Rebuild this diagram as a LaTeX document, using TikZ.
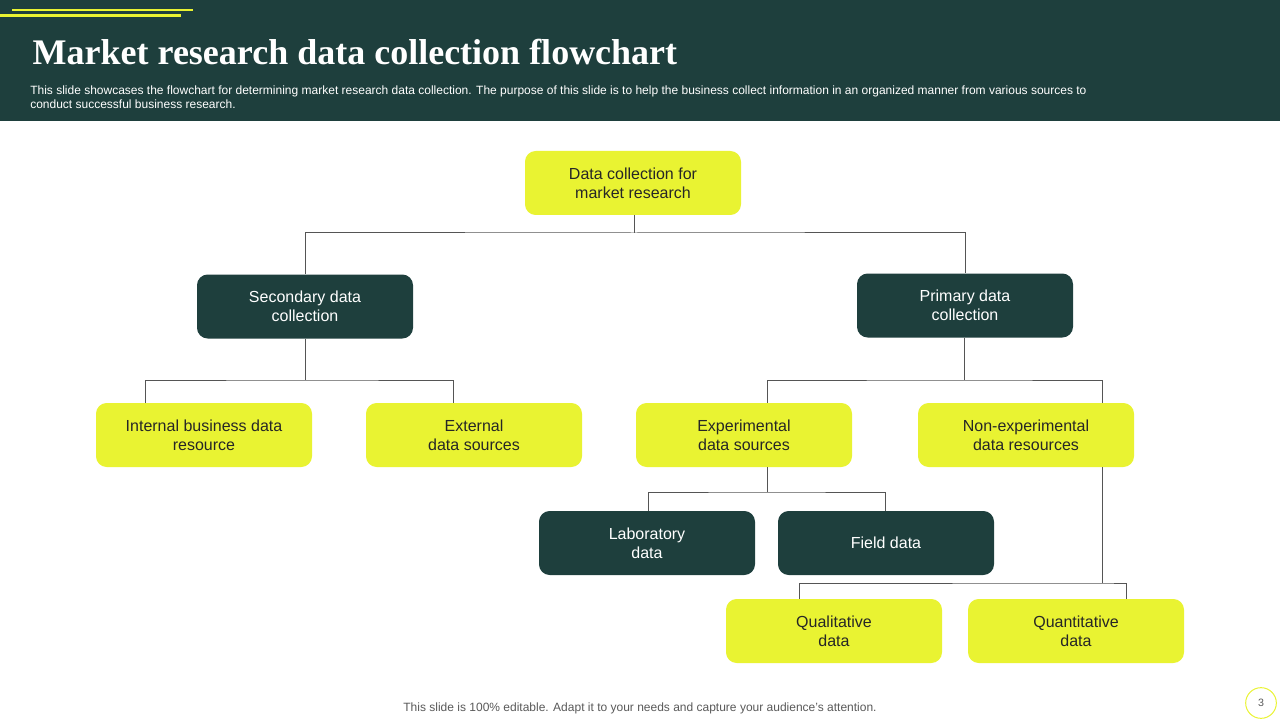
\documentclass[tikz,border=0pt]{standalone}
\usepackage{fontspec}
\setmainfont{Liberation Sans}
\newfontfamily\titlefont{Liberation Serif}
\definecolor{dk}{HTML}{1E3F3D}
\definecolor{yl}{HTML}{E9F332}
\definecolor{ln}{HTML}{555555}
\begin{document}
\begin{tikzpicture}[x=0.75pt,y=-0.75pt,
 box/.style={rounded corners=8pt,minimum width=162pt,minimum height=48pt,align=center,font=\fontsize{12}{14.4}\selectfont,inner sep=0pt},
 yb/.style={box,fill=yl,text=black!85},
 db/.style={box,fill=dk,text=white},
 con/.style={draw=ln,line width=0.75pt}]
\useasboundingbox (0,0) rectangle (1280,720);
\fill[dk] (0,0) rectangle (1280,121);
\draw[yl,line width=2pt] (12,10) -- (193,10);
\draw[yl,line width=2pt] (0,15.5) -- (181,15.5);
\node[anchor=west,text=white,font=\titlefont\bfseries\fontsize{27}{30}\selectfont] (title) at (28,52) {Market research data collection flowchart};
\node[anchor=north west,text=white,align=left,font=\fontsize{9}{10.5}\selectfont,inner sep=0pt] (sub) at (30,86) {This slide showcases the flowchart for determining market research data collection. The purpose of this slide is to help the business collect information in an organized manner from various sources to\\conduct successful business research.};

\node[yb] (root) at (633,183) {Data collection for\\market research};
\node[db] (sec) at (305,306.5) {Secondary data\\collection};
\node[db] (pri) at (965,305.5) {Primary data\\collection};
\node[yb] (int) at (204,435) {Internal business data\\resource};
\node[yb] (ext) at (474,435) {External\\data sources};
\node[yb] (exp) at (744,435) {Experimental\\data sources};
\node[yb] (nex) at (1026,435) {Non-experimental\\data resources};
\node[db] (lab) at (647,543) {Laboratory\\data};
\node[db] (fld) at (886,543) {Field data};
\node[yb] (qual) at (834,631) {Qualitative\\data};
\node[yb] (quan) at (1076,631) {Quantitative\\data};

\coordinate (r1) at (634,233);
\draw[con] (root.south -| r1) -- (r1);
\draw[con] (sec.north) |- (r1) -| (pri.north);
\coordinate (s1) at (305,380);
\draw[con] (sec.south) -- (s1);
\draw[con] (int.north -| 145,0) |- (s1) -| (ext.north -| 453,0);
\coordinate (p1) at (964,380);
\draw[con] (pri.south -| p1) -- (p1);
\draw[con] (exp.north -| 767,0) |- (p1) -| (nex.north -| 1102,0);
\coordinate (e1) at (767,492);
\draw[con] (exp.south -| e1) -- (e1);
\draw[con] (lab.north -| 648,0) |- (e1) -| (fld.north -| 885,0);
\coordinate (n1) at (1102,583);
\draw[con] (nex.south -| n1) -- (n1);
\draw[con] (qual.north -| 799,0) |- (n1) -| (quan.north -| 1126,0);

\node[text=black!65,font=\fontsize{9}{10}\selectfont] (foot) at (640,708) {This slide is 100\% editable. Adapt it to your needs and capture your audience's attention.};
\node[circle,draw=yl,line width=0.75pt,minimum size=23pt,inner sep=0pt,text=black!65,font=\fontsize{8}{9}\selectfont] (pg) at (1261,703) {3};
\end{tikzpicture}
\end{document}
